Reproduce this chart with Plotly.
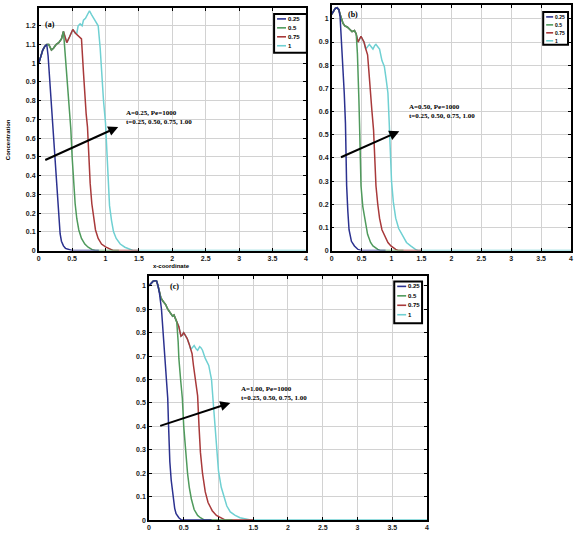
import plotly.graph_objects as go

# ---------------- data ----------------
t_labels = ["0.25", "0.5", "0.75", "1"]
colors = ["#2b318f", "#4f9a5c", "#a8393a", "#6fd0d2"]
x_ticks = [0, 0.5, 1, 1.5, 2, 2.5, 3, 3.5, 4]
x_tick_text = ["0", "0.5", "1", "1.5", "2", "2.5", "3", "3.5", "4"]

# Panel (a)  A=0.25, Pe=1000
a_x_025 = [0, 0.03, 0.06, 0.09, 0.12, 0.14, 0.17, 0.20, 0.23, 0.26, 0.28, 0.30, 0.32, 0.34, 0.37, 0.40, 0.45, 0.50, 0.90]
a_c_025 = [1.00, 1.04, 1.07, 1.09, 1.10, 1.04, 0.88, 0.72, 0.56, 0.40, 0.28, 0.17, 0.09, 0.05, 0.025, 0.012, 0.004, 0, 0]
a_x_05 = [0, 0.03, 0.06, 0.09, 0.12, 0.15, 0.19, 0.22, 0.26, 0.30, 0.34, 0.37, 0.40, 0.43, 0.46, 0.48, 0.50, 0.52, 0.545, 0.57, 0.60, 0.64, 0.69, 0.74, 0.80, 0.85, 1.20]
a_c_05 = [1.00, 1.04, 1.07, 1.09, 1.10, 1.10, 1.07, 1.08, 1.10, 1.11, 1.13, 1.17, 1.03, 0.89, 0.75, 0.65, 0.50, 0.36, 0.25, 0.17, 0.11, 0.065, 0.035, 0.018, 0.005, 0, 0]
a_x_075 = [0, 0.03, 0.06, 0.09, 0.12, 0.15, 0.19, 0.22, 0.26, 0.30, 0.34, 0.37, 0.40, 0.42, 0.46, 0.51, 0.55, 0.59, 0.64, 0.67, 0.69, 0.71, 0.73, 0.75, 0.77, 0.795, 0.82, 0.85, 0.89, 0.94, 1.00, 1.07, 1.12, 1.50]
a_c_075 = [1.00, 1.04, 1.07, 1.09, 1.10, 1.10, 1.07, 1.08, 1.10, 1.11, 1.13, 1.17, 1.13, 1.11, 1.14, 1.18, 1.16, 1.145, 1.13, 0.95, 0.82, 0.73, 0.66, 0.50, 0.36, 0.25, 0.17, 0.11, 0.065, 0.035, 0.02, 0.006, 0, 0]
a_x_1 = [0, 0.03, 0.06, 0.09, 0.12, 0.15, 0.19, 0.22, 0.26, 0.30, 0.34, 0.37, 0.40, 0.42, 0.46, 0.51, 0.55, 0.57, 0.59, 0.62, 0.65, 0.67, 0.70, 0.73, 0.76, 0.79, 0.82, 0.86, 0.89, 0.92, 0.95, 0.97, 1.00, 1.02, 1.04, 1.06, 1.09, 1.12, 1.16, 1.22, 1.29, 1.36, 1.42, 4.0]
a_c_1 = [1.00, 1.04, 1.07, 1.09, 1.10, 1.10, 1.07, 1.08, 1.10, 1.11, 1.13, 1.17, 1.13, 1.11, 1.14, 1.18, 1.16, 1.16, 1.20, 1.21, 1.20, 1.23, 1.24, 1.26, 1.28, 1.26, 1.24, 1.22, 1.20, 1.08, 0.90, 0.80, 0.68, 0.50, 0.35, 0.24, 0.16, 0.10, 0.065, 0.035, 0.018, 0.006, 0, 0]

# Panel (b)  A=0.50, Pe=1000
b_x_025 = [0, 0.03, 0.06, 0.09, 0.12, 0.14, 0.16, 0.19, 0.21, 0.23, 0.24, 0.25, 0.27, 0.29, 0.33, 0.38, 0.44, 0.50, 0.90]
b_c_025 = [1.02, 1.035, 1.045, 1.048, 1.04, 1.01, 0.93, 0.80, 0.68, 0.55, 0.40, 0.28, 0.17, 0.09, 0.04, 0.02, 0.005, 0, 0]
b_x_05 = [0, 0.03, 0.06, 0.09, 0.12, 0.14, 0.16, 0.19, 0.22, 0.26, 0.30, 0.34, 0.38, 0.41, 0.43, 0.44, 0.455, 0.465, 0.48, 0.49, 0.52, 0.55, 0.60, 0.65, 0.69, 0.77, 0.82, 1.20]
b_c_05 = [1.02, 1.035, 1.045, 1.048, 1.04, 1.02, 1.00, 0.98, 0.97, 0.965, 0.955, 0.945, 0.95, 0.935, 0.85, 0.795, 0.65, 0.55, 0.40, 0.28, 0.19, 0.14, 0.07, 0.035, 0.02, 0.005, 0, 0]
b_x_075 = [0, 0.03, 0.06, 0.09, 0.12, 0.14, 0.16, 0.19, 0.22, 0.26, 0.30, 0.34, 0.38, 0.41, 0.44, 0.47, 0.49, 0.52, 0.54, 0.57, 0.60, 0.62, 0.64, 0.67, 0.70, 0.72, 0.74, 0.77, 0.80, 0.84, 0.88, 0.94, 0.99, 1.07, 1.12, 1.50]
b_c_075 = [1.02, 1.035, 1.045, 1.048, 1.04, 1.02, 1.00, 0.98, 0.97, 0.965, 0.955, 0.945, 0.95, 0.935, 0.90, 0.915, 0.925, 0.91, 0.90, 0.87, 0.845, 0.78, 0.70, 0.61, 0.52, 0.40, 0.28, 0.20, 0.14, 0.09, 0.066, 0.035, 0.02, 0.005, 0, 0]
b_x_1 = [0, 0.03, 0.06, 0.09, 0.12, 0.14, 0.16, 0.19, 0.22, 0.26, 0.30, 0.34, 0.38, 0.41, 0.44, 0.47, 0.49, 0.52, 0.54, 0.57, 0.60, 0.63, 0.66, 0.69, 0.72, 0.74, 0.77, 0.80, 0.84, 0.88, 0.91, 0.94, 0.96, 0.98, 1.00, 1.03, 1.07, 1.12, 1.18, 1.25, 1.32, 1.40, 1.45, 4.0]
b_c_1 = [1.02, 1.035, 1.045, 1.048, 1.04, 1.02, 1.00, 0.98, 0.97, 0.965, 0.955, 0.945, 0.95, 0.935, 0.90, 0.915, 0.925, 0.91, 0.90, 0.87, 0.88, 0.89, 0.88, 0.87, 0.885, 0.89, 0.88, 0.87, 0.82, 0.795, 0.74, 0.68, 0.56, 0.42, 0.30, 0.21, 0.14, 0.095, 0.066, 0.035, 0.02, 0.005, 0, 0]

# Panel (c)  A=1.00, Pe=1000
c_x_025 = [0, 0.03, 0.06, 0.09, 0.11, 0.13, 0.15, 0.18, 0.20, 0.22, 0.245, 0.27, 0.28, 0.29, 0.30, 0.32, 0.34, 0.37, 0.39, 0.43, 0.47, 0.90]
c_c_025 = [1.00, 1.01, 1.02, 1.022, 1.02, 1.00, 0.97, 0.90, 0.81, 0.72, 0.62, 0.52, 0.42, 0.32, 0.25, 0.17, 0.11, 0.05, 0.027, 0.01, 0, 0]
c_x_05 = [0, 0.03, 0.06, 0.09, 0.11, 0.13, 0.15, 0.17, 0.20, 0.24, 0.27, 0.31, 0.34, 0.36, 0.38, 0.40, 0.42, 0.43, 0.455, 0.48, 0.50, 0.53, 0.555, 0.58, 0.61, 0.65, 0.70, 0.74, 0.80, 1.20]
c_c_05 = [1.00, 1.01, 1.02, 1.022, 1.02, 1.00, 0.97, 0.95, 0.935, 0.92, 0.90, 0.88, 0.87, 0.875, 0.86, 0.845, 0.76, 0.69, 0.60, 0.52, 0.40, 0.28, 0.20, 0.14, 0.09, 0.045, 0.02, 0.01, 0, 0]
c_x_075 = [0, 0.03, 0.06, 0.09, 0.11, 0.13, 0.15, 0.17, 0.20, 0.24, 0.27, 0.31, 0.34, 0.36, 0.38, 0.40, 0.43, 0.46, 0.48, 0.50, 0.53, 0.55, 0.58, 0.60, 0.62, 0.64, 0.66, 0.70, 0.72, 0.74, 0.77, 0.81, 0.85, 0.91, 0.97, 1.03, 1.10, 1.50]
c_c_075 = [1.00, 1.01, 1.02, 1.022, 1.02, 1.00, 0.97, 0.95, 0.935, 0.92, 0.90, 0.88, 0.87, 0.875, 0.86, 0.845, 0.825, 0.785, 0.79, 0.80, 0.785, 0.775, 0.75, 0.73, 0.71, 0.66, 0.62, 0.53, 0.40, 0.29, 0.20, 0.12, 0.075, 0.04, 0.02, 0.01, 0, 0]
c_x_1 = [0, 0.03, 0.06, 0.09, 0.11, 0.13, 0.15, 0.17, 0.20, 0.24, 0.27, 0.31, 0.34, 0.36, 0.38, 0.40, 0.43, 0.46, 0.48, 0.50, 0.53, 0.55, 0.58, 0.60, 0.62, 0.65, 0.68, 0.70, 0.73, 0.75, 0.77, 0.81, 0.86, 0.88, 0.90, 0.92, 0.94, 0.96, 0.98, 1.00, 1.04, 1.08, 1.12, 1.17, 1.24, 1.31, 1.40, 1.46, 4.0]
c_c_1 = [1.00, 1.01, 1.02, 1.022, 1.02, 1.00, 0.97, 0.95, 0.935, 0.92, 0.90, 0.88, 0.87, 0.875, 0.86, 0.845, 0.825, 0.785, 0.79, 0.80, 0.785, 0.775, 0.75, 0.73, 0.735, 0.745, 0.73, 0.725, 0.74, 0.735, 0.725, 0.69, 0.66, 0.63, 0.60, 0.52, 0.44, 0.35, 0.27, 0.21, 0.14, 0.10, 0.06, 0.035, 0.02, 0.01, 0.003, 0, 0]

panels = [
    dict(key="", label="(a)", xs=[a_x_025, a_x_05, a_x_075, a_x_1], ys=[a_c_025, a_c_05, a_c_075, a_c_1],
         yrange=[0, 1.295], ymax_tick=1.2,
         note="A=0.25, Pe=1000<br>t=0.25, 0.50, 0.75, 1.00",
         arrow=(1.19, 0.66, 0.075, 0.48), note_xy=(1.28, 0.71), label_xy=(0.17, 1.205)),
    dict(key="2", label="(b)", xs=[b_x_025, b_x_05, b_x_075, b_x_1], ys=[b_c_025, b_c_05, b_c_075, b_c_1],
         yrange=[0, 1.06], ymax_tick=1.0,
         note="A=0.50, Pe=1000<br>t=0.25, 0.50, 0.75, 1.00",
         arrow=(1.13, 0.515, 0.13, 0.40), note_xy=(1.26, 0.60), label_xy=(0.35, 1.02)),
    dict(key="3", label="(c)", xs=[c_x_025, c_x_05, c_x_075, c_x_1], ys=[c_c_025, c_c_05, c_c_075, c_c_1],
         yrange=[0, 1.04], ymax_tick=1.0,
         note="A=1.00, Pe=1000<br>t=0.25, 0.50, 0.75, 1.00",
         arrow=(1.17, 0.50, 0.14, 0.40), note_xy=(1.29, 0.54), label_xy=(0.37, 0.995)),
]

W, H = 574, 536
doms = {
    "": ([37 / W, 306 / W], [1 - 252 / H, 1 - 8 / H]),
    "2": ([332 / W, 573 / W], [1 - 252 / H, 1 - 5 / H]),
    "3": ([148 / W, 428 / W], [1 - 523 / H, 1 - 278 / H]),
}
# legend boxes (pixel layout): left, top, right, bottom, row pitch, sample length, font size
leg_boxes = {
    "": (274, 14, 307, 53, 9.0, 9, 6),
    "2": (545, 12, 570, 45, 8.0, 7, 5),
    "3": (395, 283, 423, 325, 9.5, 9, 6),
}

def px(v):
    return v / W

def py(v):
    return 1 - v / H

fig = go.Figure()
tickfont = dict(family="Liberation Sans", size=7, color="#1a1a1a", weight="bold")
annots = []
shapes = []

for p in panels:
    k = p["key"]
    # later times drawn first so earlier times sit on top where curves coincide
    for i in [3, 2, 1, 0]:
        fig.add_trace(go.Scatter(
            x=p["xs"][i], y=p["ys"][i], mode="lines", name=t_labels[i],
            line=dict(color=colors[i], width=1.5),
            xaxis="x" + k, yaxis="y" + k, showlegend=False,
        ))
    xd, yd = doms[k]
    n_y = int(round(p["ymax_tick"] * 10))
    yt = [j / 10 for j in range(n_y + 1)]
    ytt = ["0"] + [("%g" % v) for v in yt[1:]]
    ax_common = dict(showline=True, linecolor="black", linewidth=1.5, mirror="ticks",
                     ticks="inside", ticklen=3, tickcolor="black", showgrid=True,
                     gridcolor="#d2d2d2", gridwidth=1, zeroline=False, tickfont=tickfont)
    fig.update_layout(**{
        "xaxis" + k: dict(domain=xd, range=[0, 4], tickvals=x_ticks, ticktext=x_tick_text,
                          anchor="y" + k, **ax_common),
        "yaxis" + k: dict(domain=yd, range=p["yrange"], tickvals=yt, ticktext=ytt,
                          anchor="x" + k, **ax_common),
    })
    hx, hy, tx, ty = p["arrow"]
    annots.append(dict(xref="x" + k, yref="y" + k, axref="x" + k, ayref="y" + k,
                       x=hx, y=hy, ax=tx, ay=ty, text="", showarrow=True,
                       arrowhead=2, arrowsize=1, arrowwidth=2, arrowcolor="black"))
    nx, ny = p["note_xy"]
    annots.append(dict(xref="x" + k, yref="y" + k, x=nx, y=ny, text="<b>" + p["note"] + "</b>",
                       showarrow=False, xanchor="left", yanchor="middle", align="left",
                       font=dict(family="Liberation Serif", size=7, color="black")))
    lx, ly = p["label_xy"]
    annots.append(dict(xref="x" + k, yref="y" + k, x=lx, y=ly, text="<b>" + p["label"] + "</b>",
                       showarrow=False, xanchor="center", yanchor="middle",
                       font=dict(family="Liberation Serif", size=8, color="black")))

    # legend box
    L, T, R, B, pitch, slen, fsz = leg_boxes[k]
    shapes.append(dict(type="rect", xref="paper", yref="paper", x0=px(L), x1=px(R), y0=py(B), y1=py(T),
                       line=dict(color="black", width=2), fillcolor="white", layer="above"))
    for i in range(4):
        yy = T + 5 + pitch * i
        shapes.append(dict(type="line", xref="paper", yref="paper", x0=px(L + 3), x1=px(L + 3 + slen),
                           y0=py(yy), y1=py(yy), line=dict(color=colors[i], width=1.6), layer="above"))
        annots.append(dict(xref="paper", yref="paper", x=px(L + 4 + slen), y=py(yy), text="<b>" + t_labels[i] + "</b>",
                           showarrow=False, xanchor="left", yanchor="middle", borderpad=0,
                           font=dict(family="Liberation Sans", size=fsz, color="black")))

annots.append(dict(xref="paper", yref="paper", x=171 / W, y=1 - 267 / H, text="<b>x-coordinate</b>",
                   showarrow=False, xanchor="center", yanchor="middle",
                   font=dict(family="Liberation Sans", size=6, color="black")))
annots.append(dict(xref="paper", yref="paper", x=6 / W, y=1 - 140 / H, text="<b>Concentration</b>",
                   showarrow=False, xanchor="center", yanchor="middle", textangle=-90,
                   font=dict(family="Liberation Sans", size=6, color="black")))

fig.update_layout(
    width=W, height=H, autosize=False,
    margin=dict(l=0, r=0, t=0, b=0),
    paper_bgcolor="white", plot_bgcolor="white",
    showlegend=False,
    annotations=annots, shapes=shapes,
)

fig.write_html("out.html")
